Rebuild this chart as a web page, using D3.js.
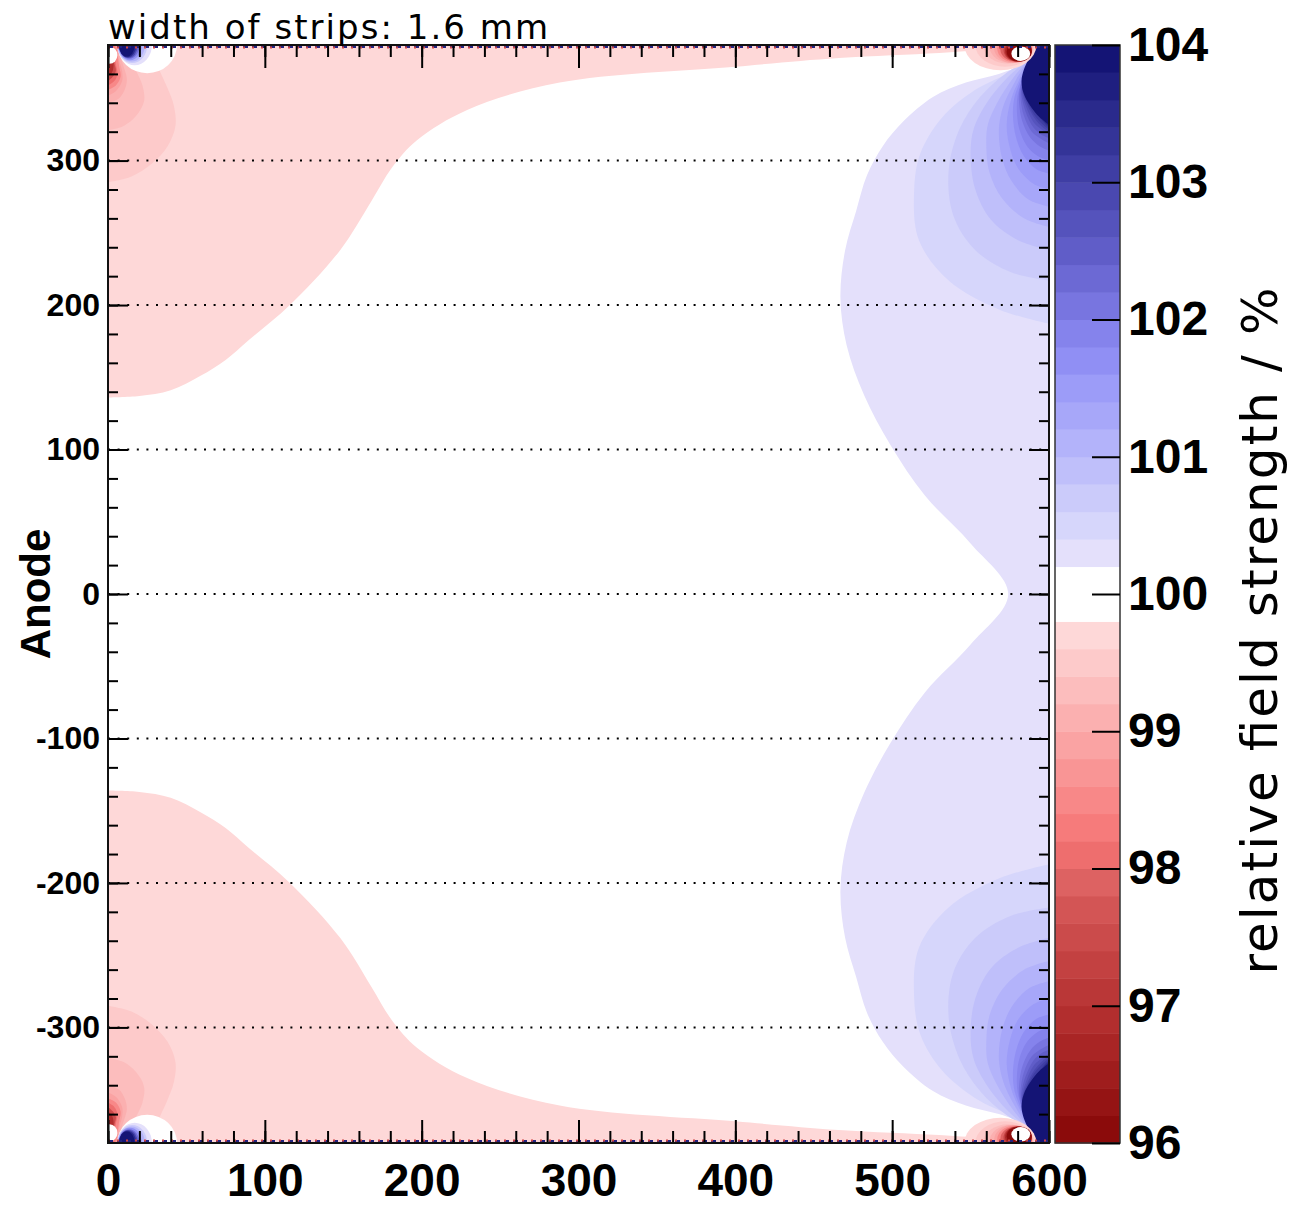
<!DOCTYPE html>
<html>
<head>
  <meta charset="utf-8">
  <title>relative field strength</title>
  <style>
    body { margin: 0; background: #fff; }
    .num { font-family: "Liberation Sans", Arial, sans-serif; font-weight: bold; }
    .lbl { font-family: "DejaVu Sans", sans-serif; fill: #000; }
    .axis path.domain { display: none; }
    .axis line { stroke: #000; stroke-width: 2; }
    .axis text { font-family: "Liberation Sans", Arial, sans-serif; font-weight: bold; fill: #000; }
  </style>
  <script src="https://d3js.org/d3.v7.min.js"></script>
</head>
<body>
<svg id="chart" width="1289" height="1205"></svg>
<script>
  // ---- data, x / y in plot units, z in % ----
  var xTicks = [0, 100, 200, 300, 400, 500, 600];
  var yTicks = [-300, -200, -100, 0, 100, 200, 300];
  var zTicks = [96, 97, 98, 99, 100, 101, 102, 103, 104];

  // contour levels (0.2 % bands) and their colours, from 96 to 104
  var zEdges = [96.0, 96.2, 96.4, 96.6, 96.8, 97.0, 97.2, 97.4, 97.6, 97.8,
    98.0, 98.2, 98.4, 98.6, 98.8, 99.0, 99.2, 99.4, 99.6, 99.8,
    100.0, 100.2, 100.4, 100.6, 100.8, 101.0, 101.2, 101.4, 101.6, 101.8,
    102.0, 102.2, 102.4, 102.6, 102.8, 103.0, 103.2, 103.4, 103.6, 103.8, 104.0];
  var zColors = ["#8b0b0b", "#951414", "#9f1d1d", "#a92525", "#b22e2e", "#ba3737", "#c34141", "#cb4b4b", "#d35555", "#dd6262",
    "#ee6e6e", "#f67b7b", "#f88888", "#f99595", "#faa3a3", "#fbb0b0", "#fcbdbd", "#fdcaca", "#fed8d8", "#ffffff",
    "#ffffff", "#e4e0fb", "#d6d6fb", "#cbcbfa", "#bfbffa", "#b3b3fa", "#a7a7f9", "#9c9cf8", "#908ff4", "#8583ec",
    "#7875e0", "#6c69d4", "#605dc8", "#5553bc", "#4a48b0", "#3f3ea4", "#343498", "#2a2a8c", "#1f1f80", "#141475"];

  // 99.8 % contour, upper half (left side, pink region lies above it)
  var pinkTop = [[0, 136], [20, 137], [40, 141], [59, 151], [75, 162], [90, 176], [116, 200], [148, 238],
    [168, 272], [181, 295], [197, 314], [229, 335], [288, 354], [400, 365], [466, 371], [530, 374.5], [565, 377], [600, 379]];

  // 100.2 % contour, upper half (right side, lavender region lies right of it)
  var lavenderTop = [[589, 368], [568, 360], [547, 354], [526, 344], [507, 327], [494, 310], [484, 290], [477, 265],
    [470, 238], [467, 205], [471, 172], [482, 138], [499, 103], [521, 68], [550, 35], [574, 0]];

  // contours around the upper right corner (region right of each line is >= level)
  var rightRings = [
    { level: 100.4, pts: [[587, 370], [575, 361], [553, 349], [532, 330], [518, 305], [514, 279], [517, 245], [536, 217], [568, 197], [600, 187]] },
    { level: 100.6, pts: [[587, 370], [572, 360], [556, 344], [543, 322], [536, 293], [539, 262], [553, 238], [575, 223], [600, 217]] },
    { level: 100.8, pts: [[587, 370], [574, 358], [561, 341], [552, 322], [550, 304], [553, 280], [563, 259], [580, 245], [600, 238]] },
    { level: 101.0, pts: [[587, 370], [577, 357], [567, 340], [561, 325], [560, 312], [562, 292], [570, 274], [584, 260], [600, 254]] },
    { level: 101.2, pts: [[587, 370], [579, 356], [572, 341], [569, 330], [568, 319], [570, 302], [576, 286], [587, 273], [600, 268]] },
    { level: 101.4, pts: [[587, 369], [581, 356], [576, 343], [573, 325], [575, 309], [580, 295], [590, 284], [600, 280]] },
    { level: 101.6, pts: [[587, 369], [582, 356], [578, 344], [577, 331], [579, 316], [584, 303], [592, 294], [600, 291]] },
    { level: 101.8, pts: [[587, 369], [583, 356], [580, 345], [579.5, 335], [581, 322], [586, 310], [593, 303], [600, 300]] },
    { level: 102.0, pts: [[587, 369], [583, 357], [581, 347], [581, 339], [583, 327], [588, 316], [594, 310], [600, 307]] },
    { level: 102.2, pts: [[587, 369], [584, 358], [582, 349], [582, 342], [584, 331], [589, 320], [595, 315], [600, 312]] },
    { level: 102.4, pts: [[587, 369], [584, 358], [582.5, 351], [582.5, 345], [585, 334], [590, 323], [595, 318], [600, 315.5]] },
    { level: 102.6, pts: [[587, 369], [584.5, 359], [583, 352], [583, 347], [585.5, 337], [590.5, 326], [596, 321], [600, 318]] },
    { level: 102.8, pts: [[587, 369], [585, 359], [583, 353], [583, 349], [586, 339], [591, 329], [596, 323], [600, 320]] },
    { level: 103.0, pts: [[587, 369], [585, 360], [583, 354], [583, 350], [586, 341], [591, 331], [596, 325], [600, 321.5]] },
    { level: 103.2, pts: [[587, 369], [585, 360], [583, 355], [583, 351], [586.5, 342], [592, 333], [597, 326], [600, 322.5]] },
    { level: 103.4, pts: [[587, 370], [585, 361], [583, 356], [583, 352], [587, 343], [592, 334], [597, 327], [600, 323.5]] },
    { level: 103.6, pts: [[587, 370], [585, 362], [583, 357], [583, 353], [587, 344], [592, 335], [597, 328], [600, 324.5]] },
    { level: 103.8, pts: [[589, 382], [587, 371], [584, 363], [582.5, 355], [584, 346], [588, 338], [594, 330], [600, 325]] }
  ];

  // contours along the upper left edge (region left of each line is <= level)
  var leftLobes = [
    { level: 99.6, pts: [[0, 285], [15, 289], [28, 298], [38, 310], [43, 324], [42, 338], [38, 350], [33, 362], [29, 372], [27, 382]] },
    { level: 99.4, pts: [[0, 321], [10, 324], [18, 331], [23, 341], [22, 352], [18, 362], [14, 372], [12, 382]] },
    { level: 99.2, pts: [[0, 340], [7, 343], [11, 350], [12, 357], [10, 365], [8, 372], [7, 382]] },
    { level: 99.0, pts: [[0, 345], [5, 348], [9, 355], [9, 362], [7, 370], [6, 382]] },
    { level: 98.6, pts: [[0, 349], [5, 352], [8, 358], [7, 366], [5, 382]] },
    { level: 98.2, pts: [[0, 352], [4, 355], [6, 360], [5, 367], [4, 382]] },
    { level: 97.6, pts: [[0, 355], [3, 358], [5, 362], [4, 368], [3, 382]] },
    { level: 97.0, pts: [[0, 358], [2.5, 361], [3.5, 365], [3, 382]] }
  ];

  // small pockets at the strip ends, upper half: [level, cx, cy, rx, ry]
  var leftPocket = [[100.0, 25, 380, 19, 19.5], [100.2, 17, 380, 11, 14], [100.6, 15.5, 380, 9.5, 12.5],
    [101.0, 15, 380, 8.5, 11.5], [101.6, 14, 380, 7.5, 10.5], [102.2, 13.5, 380, 6.5, 9.5],
    [102.8, 13, 380, 6, 9], [103.4, 12.5, 380, 5.5, 8.5], [103.8, 12, 380, 5, 8], [95.8, 1, 373, 5, 6]];
  var rightPocket = [[99.8, 569, 380, 23, 17.5], [99.6, 572, 380, 19, 15], [99.4, 574, 380, 16, 13],
    [99.2, 576, 379, 14, 11.5], [99.0, 577, 378, 12, 10.5], [98.6, 578, 377.5, 11, 9.5],
    [98.0, 579, 377, 10, 8.5], [97.4, 580, 376.5, 9, 8], [96.8, 580.5, 376, 8.5, 7.5],
    [96.2, 581, 375.5, 8, 7], [95.8, 582, 374, 6, 5]];

  // ---- layout ----
  var svg = d3.select("#chart");
  var x = d3.scaleLinear().domain([0, 600]).range([108, 1049]);
  var y = d3.scaleLinear().domain([-380, 380]).range([1143, 45]);
  var z = d3.scaleLinear().domain([96, 104]).range([1143, 45]);
  var zColor = d3.scaleThreshold().domain(zEdges.slice(1, -1)).range(zColors);

  // colour of the band just above (up) or just below a contour level
  function bandAbove(level) { return level > 104 || level < 96 ? "#fff" : zColor(level + 0.1); }
  function bandBelow(level) { return level > 104 || level < 96 ? "#fff" : zColor(level - 0.1); }

  function mirror(pts) { return pts.map(function (p) { return [p[0], -p[1]]; }); }

  var curve = d3.line().x(function (d) { return x(d[0]); }).y(function (d) { return y(d[1]); })
    .curve(d3.curveCatmullRom.alpha(0.5));
  var poly = d3.line().x(function (d) { return x(d[0]); }).y(function (d) { return y(d[1]); });

  // plain integer labels with an ascii minus, as in the original
  var intFmt = function (d) { return String(d); };

  // smooth contour line, closed off with straight lines outside the frame
  function region(pts, outside) {
    return curve(pts) + "L" + poly(outside).slice(1) + "Z";
  }

  svg.append("defs").append("clipPath").attr("id", "plotClip")
    .append("rect").attr("x", x(0)).attr("y", y(380)).attr("width", x(600) - x(0)).attr("height", y(-380) - y(380));

  var plot = svg.append("g").attr("clip-path", "url(#plotClip)");
  plot.append("rect").attr("x", x(0)).attr("y", y(380)).attr("width", x(600) - x(0))
    .attr("height", y(-380) - y(380)).attr("fill", "#fff");

  [1, -1].forEach(function (s) {
    var m = function (pts) { return s > 0 ? pts : mirror(pts); };

    // pink band (<= 99.8)
    plot.append("path")
      .attr("d", region(m(pinkTop), m([[600, 392], [0, 392]])))
      .attr("fill", bandBelow(99.8));
  });

  // lavender band (>= 100.2), one piece from top to bottom
  var lavFull = lavenderTop.concat(mirror(lavenderTop).reverse().slice(1));
  plot.append("path")
    .attr("d", region(lavFull, [[620, -368], [620, 368]]))
    .attr("fill", bandAbove(100.2));

  [1, -1].forEach(function (s) {
    var m = function (pts) { return s > 0 ? pts : mirror(pts); };

    rightRings.forEach(function (r) {
      var first = r.pts[0], last = r.pts[r.pts.length - 1];
      plot.append("path")
        .attr("d", region(m(r.pts), m([[620, last[1]], [620, 392], [first[0], 392]])))
        .attr("fill", bandAbove(r.level));
    });

    leftLobes.forEach(function (r) {
      var first = r.pts[0], last = r.pts[r.pts.length - 1];
      plot.append("path")
        .attr("d", region(m(r.pts), m([[-20, last[1]], [-20, first[1]]])))
        .attr("fill", bandBelow(r.level));
    });

    leftPocket.forEach(function (e) {
      plot.append("ellipse")
        .attr("cx", x(e[1])).attr("cy", y(s * e[2]))
        .attr("rx", x(e[3]) - x(0)).attr("ry", y(0) - y(e[4]))
        .attr("fill", e[0] >= 100 ? bandAbove(e[0]) : bandBelow(e[0]));
    });

    rightPocket.forEach(function (e) {
      plot.append("ellipse")
        .attr("cx", x(e[1])).attr("cy", y(s * e[2]))
        .attr("rx", x(e[3]) - x(0)).attr("ry", y(0) - y(e[4]))
        .attr("fill", bandBelow(e[0]));
    });

    // the strips themselves along the edge
    plot.append("line")
      .attr("x1", x(0)).attr("x2", x(600)).attr("y1", y(s * 378.8)).attr("y2", y(s * 378.8))
      .attr("stroke", "#23237f").attr("stroke-width", 2.5).attr("stroke-dasharray", "5 4");
    plot.append("line")
      .attr("x1", x(0)).attr("x2", x(600)).attr("y1", y(s * 378.3)).attr("y2", y(s * 378.3))
      .attr("stroke", "#d04545").attr("stroke-width", 2).attr("stroke-dasharray", "2 7");
  });

  // dotted grid lines
  plot.selectAll(".grid").data(yTicks).enter().append("line")
    .attr("x1", x(0)).attr("x2", x(600))
    .attr("y1", function (d) { return y(d); }).attr("y2", function (d) { return y(d); })
    .attr("stroke", "#000").attr("stroke-width", 2).attr("stroke-dasharray", "2 7.6");

  // ---- axes ----
  var xMinor = d3.range(0, 601, 20), yMinor = d3.range(-360, 361, 20);

  svg.append("g").attr("class", "axis").attr("transform", "translate(0," + y(-380) + ")")
    .call(d3.axisBottom(x).tickValues(xMinor).tickSize(-12).tickFormat(""));
  var xa = svg.append("g").attr("class", "axis").attr("transform", "translate(0," + y(-380) + ")")
    .call(d3.axisBottom(x).tickValues(xTicks).tickSize(-23).tickPadding(20).tickFormat(intFmt));
  xa.selectAll("text").attr("font-size", 46);

  svg.append("g").attr("class", "axis").attr("transform", "translate(0," + y(380) + ")")
    .call(d3.axisTop(x).tickValues(xMinor).tickSize(-12).tickFormat(""));
  svg.append("g").attr("class", "axis").attr("transform", "translate(0," + y(380) + ")")
    .call(d3.axisTop(x).tickValues(xTicks).tickSize(-23).tickFormat(""));

  svg.append("g").attr("class", "axis").attr("transform", "translate(" + x(0) + ",0)")
    .call(d3.axisLeft(y).tickValues(yMinor).tickSize(-10).tickFormat(""));
  var ya = svg.append("g").attr("class", "axis").attr("transform", "translate(" + x(0) + ",0)")
    .call(d3.axisLeft(y).tickValues(yTicks).tickSize(-20).tickPadding(8).tickFormat(intFmt));
  ya.selectAll("text").attr("font-size", 32);

  svg.append("g").attr("class", "axis").attr("transform", "translate(" + x(600) + ",0)")
    .call(d3.axisRight(y).tickValues(yMinor).tickSize(-10).tickFormat(""));
  svg.append("g").attr("class", "axis").attr("transform", "translate(" + x(600) + ",0)")
    .call(d3.axisRight(y).tickValues(yTicks).tickSize(-20).tickFormat(""));

  // frame
  svg.append("rect").attr("x", x(0)).attr("y", y(380)).attr("width", x(600) - x(0))
    .attr("height", y(-380) - y(380)).attr("fill", "none").attr("stroke", "#111").attr("stroke-width", 2);

  svg.append("text").attr("class", "num")
    .attr("transform", "translate(50," + y(0) + ") rotate(-90)")
    .attr("text-anchor", "middle").attr("font-size", 42).text("Anode");

  svg.append("text").attr("class", "lbl")
    .attr("x", 108).attr("y", 39).attr("font-size", 34)
    .attr("textLength", 440).attr("lengthAdjust", "spacing")
    .text("width of strips: 1.6 mm");

  // ---- colour bar ----
  var cbX0 = 1055, cbX1 = 1120;
  var bands = zColors.map(function (c, i) { return { lo: zEdges[i], hi: zEdges[i + 1], c: c }; });
  svg.append("g").selectAll("rect").data(bands).enter().append("rect")
    .attr("x", cbX0).attr("width", cbX1 - cbX0)
    .attr("y", function (d) { return z(d.hi); })
    .attr("height", function (d) { return z(d.lo) - z(d.hi) + 0.5; })
    .attr("fill", function (d) { return d.c; });
  svg.append("rect").attr("x", cbX0).attr("y", z(104)).attr("width", cbX1 - cbX0)
    .attr("height", z(96) - z(104)).attr("fill", "none").attr("stroke", "#333").attr("stroke-width", 1.5);

  var za = svg.append("g").attr("class", "axis").attr("transform", "translate(" + cbX1 + ",0)")
    .call(d3.axisRight(z).tickValues(zTicks).tickSize(-28).tickPadding(8).tickFormat(intFmt));
  za.selectAll("text").attr("font-size", 48);

  svg.append("text").attr("class", "lbl")
    .attr("transform", "translate(1277,631) rotate(-90)")
    .attr("text-anchor", "middle").attr("font-size", 50)
    .attr("textLength", 687).attr("lengthAdjust", "spacing")
    .text("relative field strength / %");
</script>
</body>
</html>
